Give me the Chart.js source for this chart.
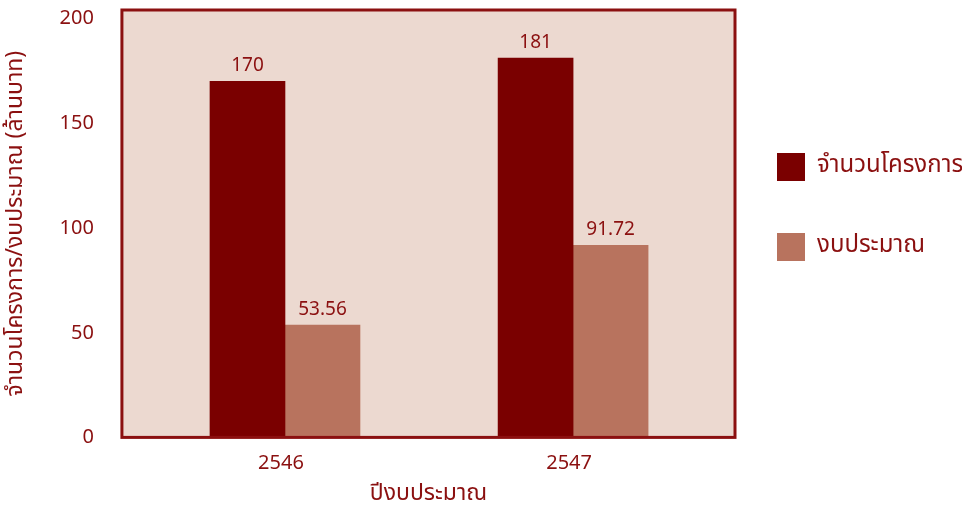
<!DOCTYPE html>
<html>
<head>
<meta charset="utf-8">
<script src="https://cdn.jsdelivr.net/npm/chart.js@4"></script>
<style>
  html, body { margin: 0; padding: 0; background: #fff; }
  #wrap { width: 962px; height: 506px; }
</style>
</head>
<body>
<div id="wrap"><canvas id="myChart"></canvas></div>
<script>
const years = ['2546', '2547'];
const projects = [170, 181];
const budget = [53.56, 91.72];
const yTicks = [0, 50, 100, 150, 200];

const textColor = '#8b1010';
const fontName = "'Noto Sans Thai', 'Noto Sans', sans-serif";

// แกน x เป็นลำดับปี 0,1 เพื่อให้ตั้งระยะขอบได้เอง
const toPoints = arr => arr.map((v, i) => ({ x: i, y: v }));

// พื้นหลังและกรอบของพื้นที่กราฟ
const areaBg = {
    id: 'areaBg',
    afterLayout(chart) {
        // ขยับ legend เข้ามาใกล้กราฟ
        chart.legend.left -= 10;
    },
    beforeDraw(chart) {
        const a = chart.chartArea;
        const c = chart.ctx;
        c.save();
        c.fillStyle = '#ecd9d0';
        c.fillRect(a.left, a.top, a.right - a.left, a.bottom - a.top);
        c.restore();
    },
    afterDatasetsDraw(chart) {
        const a = chart.chartArea;
        const c = chart.ctx;
        c.save();
        c.strokeStyle = '#8b1010';
        c.lineWidth = 3;
        c.strokeRect(a.left, a.top, a.right - a.left, a.bottom - a.top);
        c.restore();
    }
};

// ตัวเลขบนแท่ง
const barLabels = {
    id: 'barLabels',
    afterDatasetsDraw(chart) {
        const c = chart.ctx;
        c.save();
        c.fillStyle = textColor;
        c.font = '19px ' + fontName;
        c.textAlign = 'center';
        c.textBaseline = 'bottom';
        chart.data.datasets.forEach((ds, i) => {
            chart.getDatasetMeta(i).data.forEach((bar, j) => {
                c.fillText(String(ds.data[j].y), bar.x, bar.y - 5);
            });
        });
        c.restore();
    }
};

const ctx = document.getElementById('myChart').getContext('2d');
const myChart = new Chart(ctx, {
    type: 'bar',
    data: {
        datasets: [{
            label: 'จำนวนโครงการ',
            data: toPoints(projects),
            backgroundColor: '#7a0000'
        }, {
            label: 'งบประมาณ',
            data: toPoints(budget),
            backgroundColor: '#b8735e'
        }]
    },
    options: {
        responsive: true,
        maintainAspectRatio: false,
        animation: false,
        layout: { padding: { left: 4, top: 10, right: 0, bottom: -3 } },
        datasets: {
            bar: { barThickness: 75 }
        },
        plugins: {
            tooltip: { enabled: false },
            legend: {
                position: 'right',
                align: 'start',
                maxWidth: 227,
                title: {
                    display: true,
                    text: ' ',
                    font: { size: 20 },
                    padding: { top: 0, bottom: 67 }
                },
                labels: {
                    color: textColor,
                    font: { family: fontName, size: 24 },
                    boxWidth: 28,
                    boxHeight: 28,
                    padding: 52
                }
            }
        },
        scales: {
            x: {
                type: 'linear',
                offset: false,
                min: -0.566,
                max: 1.562,
                grid: { display: false, drawTicks: false },
                border: { display: false },
                afterBuildTicks(scale) {
                    scale.ticks = years.map((y, i) => ({ value: i }));
                },
                ticks: {
                    color: textColor,
                    font: { family: fontName, size: 20 },
                    padding: 16,
                    labelOffset: -4,
                    callback: (v) => years[v]
                },
                title: {
                    display: true,
                    text: 'ปีงบประมาณ',
                    color: textColor,
                    font: { family: fontName, size: 23 },
                    padding: { top: -12, bottom: 0 }
                }
            },
            y: {
                min: 0,
                max: 204,
                grid: { display: false, drawTicks: false },
                border: { display: false },
                afterBuildTicks(scale) {
                    scale.ticks = yTicks.map(v => ({ value: v }));
                },
                afterFit(scale) {
                    scale.paddingTop = 0;
                    scale.paddingBottom = 0;
                },
                ticks: { color: textColor, font: { family: fontName, size: 20 }, padding: 28, labelOffset: 2 },
                title: {
                    display: true,
                    text: 'จำนวนโครงการ/งบประมาณ (ล้านบาท)',
                    color: textColor,
                    font: { family: fontName, size: 23 },
                    padding: { top: 0, bottom: 0 }
                }
            }
        }
    },
    plugins: [areaBg, barLabels]
});
</script>
</body>
</html>
